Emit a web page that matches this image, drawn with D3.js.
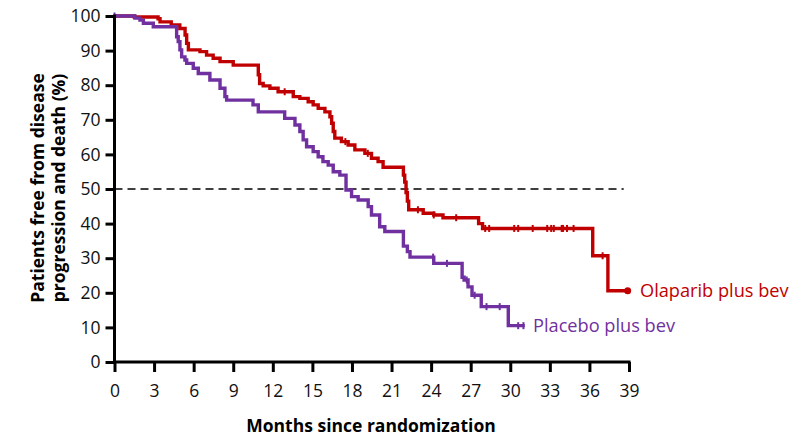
<!DOCTYPE html>
<html>
<head>
<meta charset="utf-8">
<script src="https://cdn.jsdelivr.net/npm/d3@7"></script>
<style>
  body { margin: 0; background: #fff; }
  text { font-family: "Open Sans", sans-serif; }
</style>
</head>
<body>
<svg width="801" height="436"></svg>
<script>
// step points: [month, percent]
const olaparibSteps = [
  [0, 100], [1.5, 99.7], [3.3, 99.2], [3.45, 98.3], [4.3, 97.4], [4.95, 96.4], [5.35, 94.5],
  [5.47, 92.1], [5.6, 90.2], [6.48, 89.7], [6.98, 88.7], [7.48, 87.8], [8.0, 86.8], [9.0, 85.8],
  [10.9, 83], [11.0, 80.5], [11.27, 79.8], [11.78, 79.1], [12.4, 78.1], [13.55, 76.7],
  [14.05, 76.2], [14.68, 75.2], [15.06, 74.3], [15.44, 73.3], [15.95, 72.3], [16.33, 70.9],
  [16.46, 69], [16.58, 66.6], [16.7, 64.7], [17.2, 63.7], [17.71, 62.7], [18.22, 61.3],
  [18.98, 60.3], [19.48, 58.9], [19.98, 57.9], [20.36, 56.3], [21.9, 54], [22.0, 52],
  [22.1, 49], [22.2, 46.5], [22.3, 44], [23.4, 43], [24.2, 42.5], [24.9, 41.7],
  [27.6, 40], [27.9, 38.6], [36.25, 30.7], [37.4, 20.6]
];
const olaparibEnd = 38.9;
const olaparibCensor = [12.9, 17.5, 19.2, 23.0, 24.2, 25.9, 28.1, 28.4, 30.3, 30.6, 31.7,
  32.8, 33.1, 33.3, 33.9, 34.0, 34.3, 34.8, 37.0];

const placeboSteps = [
  [0, 100], [1.55, 99.4], [1.93, 98.8], [2.19, 97.9], [2.94, 96.9], [4.71, 94], [4.83, 92.6],
  [4.96, 90.2], [5.09, 88.2], [5.34, 87.3], [5.47, 86.3], [5.97, 84.9], [6.35, 83.4],
  [7.23, 81.5], [8.0, 79.1], [8.37, 76.7], [8.5, 75.7], [10.5, 74.3], [10.9, 72.3],
  [12.9, 70.4], [13.68, 68.5], [14.05, 66.6], [14.3, 64.2], [14.56, 62.2], [15.06, 60.8],
  [15.44, 59.3], [15.8, 57.9], [16.2, 56.9], [16.58, 55], [17.08, 54], [17.55, 49.7],
  [17.97, 47.8], [18.47, 46.8], [19.23, 44.9], [19.48, 42.5], [20.1, 39.1], [20.49, 37.7],
  [21.9, 33.5], [22.2, 31.9], [22.4, 30.3], [24.2, 28.5], [26.35, 24.5], [26.5, 23.7],
  [26.8, 21.7], [27.1, 19.3], [27.8, 16], [29.85, 10.5]
];
const placeboEnd = 31.1;
const placeboCensor = [0, 24.15, 25.2, 26.7, 27.3, 28.2, 29.2, 30.6, 31.0];

const xTicks = d3.range(0, 40, 3);
const yTicks = d3.range(0, 101, 10);
const medianLine = 50;

const svg = d3.select('svg');
const red = '#c00000';
const purple = '#7030a0';

const x = d3.scaleLinear().domain([0, 39]).range([114.5, 629]);
const y = d3.scaleLinear().domain([0, 100]).range([362, 16]);

// value of a step curve at month t
function valueAt(steps, t) {
  let v = steps[0][1];
  for (const s of steps) { if (s[0] <= t) v = s[1]; }
  return v;
}

// dashed 50% line
svg.append('line')
  .attr('x1', x(0)).attr('x2', x(38.6))
  .attr('y1', y(medianLine)).attr('y2', y(medianLine))
  .attr('stroke', '#000').attr('stroke-width', 1.6)
  .attr('stroke-dasharray', '8,5');

const stepLine = d3.line().x(d => x(d[0])).y(d => y(d[1])).curve(d3.curveStepAfter);

function drawCurve(steps, end, censor, color) {
  const pts = steps.concat([[end, steps[steps.length - 1][1]]]);
  svg.append('path')
    .attr('d', stepLine(pts))
    .attr('fill', 'none')
    .attr('stroke', color)
    .attr('stroke-width', 3.4);
  svg.append('g').selectAll('line').data(censor).join('line')
    .attr('x1', d => x(d)).attr('x2', d => x(d))
    .attr('y1', d => y(valueAt(steps, d)) - 3.5)
    .attr('y2', d => y(valueAt(steps, d)) + 3.5)
    .attr('stroke', color).attr('stroke-width', 2);
}

drawCurve(olaparibSteps, olaparibEnd, olaparibCensor, red);
drawCurve(placeboSteps, placeboEnd, placeboCensor, purple);

svg.append('circle')
  .attr('cx', x(olaparibEnd)).attr('cy', y(valueAt(olaparibSteps, olaparibEnd)))
  .attr('r', 3.5).attr('fill', red);

// axes
const xAxis = svg.append('g')
  .attr('transform', `translate(0,${y(0)})`)
  .call(d3.axisBottom(x).tickValues(xTicks).tickSize(10).tickPadding(13).tickSizeOuter(0));
const yAxis = svg.append('g')
  .attr('transform', `translate(${x(0)},0)`)
  .call(d3.axisLeft(y).tickValues(yTicks).tickSize(9).tickPadding(5).tickSizeOuter(0));

[xAxis, yAxis].forEach(a => {
  a.select('.domain').attr('stroke', '#000').attr('stroke-width', 3);
  a.selectAll('.tick line').attr('stroke', '#000').attr('stroke-width', 3);
  a.selectAll('.tick text')
    .attr('font-family', '"Open Sans", sans-serif')
    .attr('font-size', 17.5).attr('fill', '#111');
});
xAxis.select('.domain').attr('d', `M${x(0) - 1.5},0H${x(39) + 1.5}`);
yAxis.select('.domain').attr('d', `M0,${y(100) - 1.5}V${y(0) + 1.5}`);

// titles
svg.append('text')
  .attr('x', 371).attr('y', 432)
  .attr('text-anchor', 'middle')
  .attr('font-size', 17.5).attr('font-weight', 'bold')
  .text('Months since randomization');

const yTitle = svg.append('text')
  .attr('transform', 'translate(44,188) rotate(-90)')
  .attr('text-anchor', 'middle')
  .attr('font-size', 17.5).attr('font-weight', 'bold');
yTitle.append('tspan').attr('x', 0).attr('dy', 0).text('Patients free from disease');
yTitle.append('tspan').attr('x', 0).attr('dy', 21).text('progression and death (%)');

// series labels
svg.append('text')
  .attr('x', 640).attr('y', y(valueAt(olaparibSteps, olaparibEnd)) + 6)
  .attr('font-size', 18.2).attr('fill', red)
  .text('Olaparib plus bev');
svg.append('text')
  .attr('x', 533).attr('y', 332)
  .attr('font-size', 18.2).attr('fill', purple)
  .text('Placebo plus bev');
</script>
</body>
</html>
